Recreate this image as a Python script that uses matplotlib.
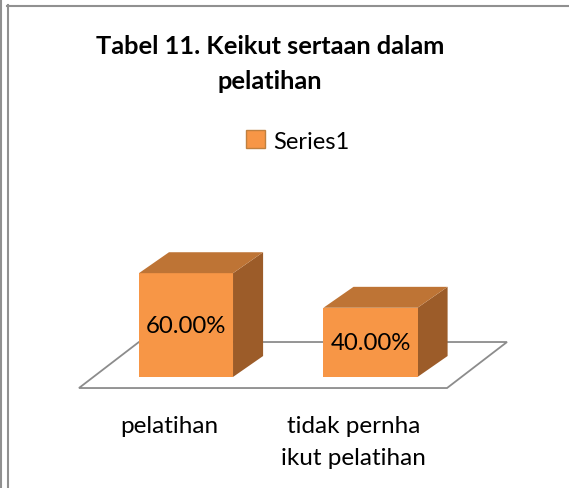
import matplotlib.pyplot as plt
from matplotlib.patches import Polygon, Patch
from matplotlib.lines import Line2D

categories = ['pelatihan', 'tidak pernha\nikut pelatihan']
values = [60.0, 40.0]
series_name = 'Series1'
title = 'Tabel 11. Keikut sertaan dalam\npelatihan'

front_col = '#F79646'
top_col = '#BE7435'
side_col = '#9C5C29'

plt.rcParams['font.family'] = ['Lato', 'DejaVu Sans']

W, H = 569, 489
fig = plt.figure(figsize=(W / 100, H / 100), dpi=100)
ax = fig.add_axes([0, 0, 1, 1])
ax.set_xlim(-1.008, 2.076)
ax.set_ylim(-64.2, 218.5)
ax.axis('off')

# 3d depth of bars and floor (data units)
bw = 0.51
ddx, ddy = 0.163, 12.1

# floor plane
floor = Polygon([(-0.58, -6.4), (1.415, -6.4), (1.74, 20.2), (-0.255, 20.2)],
                closed=True, facecolor='white', edgecolor='#8c8c8c', lw=1.3, zorder=1)
ax.add_patch(floor)

xs = list(range(len(values)))
ax.bar(xs, values, width=bw, color=front_col, zorder=3, linewidth=0)
for x, v in zip(xs, values):
    l, r = x - bw / 2, x + bw / 2
    top = Polygon([(l, v), (r, v), (r + ddx, v + ddy), (l + ddx, v + ddy)],
                  closed=True, facecolor=top_col, edgecolor='none', zorder=3)
    side = Polygon([(r, 0), (r + ddx, ddy), (r + ddx, v + ddy), (r, v)],
                   closed=True, facecolor=side_col, edgecolor='none', zorder=2)
    ax.add_patch(top)
    ax.add_patch(side)
    ax.text(x, v / 2, f'{v:.2f}%', ha='center', va='center', fontsize=17.3, zorder=4)

for x, c in zip(xs, categories):
    ax.text(x - 0.09, -22, c, ha='center', va='top', fontsize=17.5,
            linespacing=1.65, multialignment='center')

fig.text(270 / W, 1 - 64 / H, title, ha='center', va='center', fontsize=18.3,
         fontweight='bold', linespacing=1.65, multialignment='center')

fig.legend(handles=[Patch(facecolor=front_col, edgecolor='#C0803F')], labels=[series_name],
           loc='center', bbox_to_anchor=(298 / W, 1 - 142 / H), frameon=False,
           fontsize=17, handlelength=0.8, handleheight=0.8, handletextpad=0.35)

# outer frame lines
fig.add_artist(Line2D([0.5 / W, 0.5 / W], [0, 1], color='#909090', lw=1.5))
fig.add_artist(Line2D([7.5 / W, 7.5 / W], [0, 1 - 6 / H], color='#909090', lw=1.5))
fig.add_artist(Line2D([7 / W, 1], [1 - 6.5 / H, 1 - 6.5 / H], color='#909090', lw=1.5))

fig.savefig('out.png', dpi=100)
